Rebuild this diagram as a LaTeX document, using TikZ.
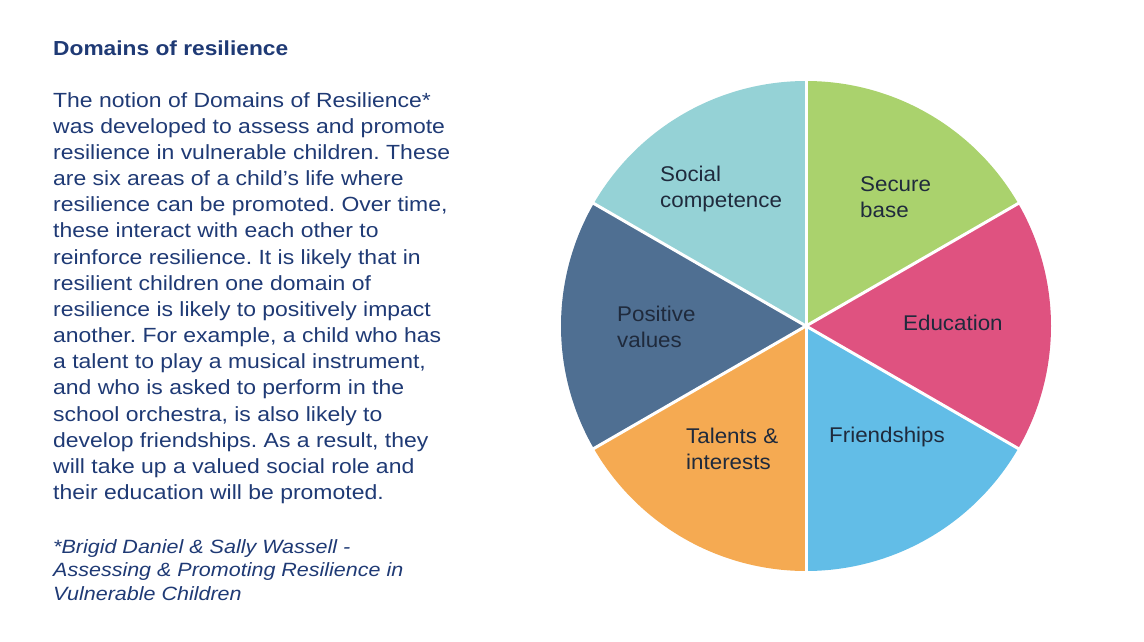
\documentclass[tikz,border=0pt]{standalone}
\usepackage{fontspec}
\setmainfont{Liberation Sans}
\newfontfamily\bodyfont[FakeStretch=1.12]{Liberation Sans}
\newfontfamily\pielabelfont[FakeStretch=1.05]{Liberation Sans}
\frenchspacing
\definecolor{navytext}{HTML}{1F3A75}
\definecolor{labeltext}{HTML}{1F2A3C}
\definecolor{cgreen}{HTML}{AAD26D}
\definecolor{cpink}{HTML}{DF5280}
\definecolor{cblue}{HTML}{62BDE7}
\definecolor{corange}{HTML}{F5AA52}
\definecolor{cslate}{HTML}{4F6F92}
\definecolor{cteal}{HTML}{95D2D6}
\tikzset{
  x=1pt, y=1pt,
  bodytext/.style={inner sep=0pt, text=navytext, align=left, font={\bodyfont\frenchspacing\fontsize{20.5}{26.17}\selectfont}},
  titletext/.style={inner sep=0pt, text=navytext, font={\bodyfont\bfseries\fontsize{20.3}{24}\selectfont}},
  notetext/.style={inner sep=0pt, text=navytext, align=left, font={\bodyfont\itshape\frenchspacing\fontsize{19.2}{23.8}\selectfont}},
  slicelabel/.style={inner sep=0pt, text=labeltext, align=left, font={\pielabelfont\fontsize{21.3}{25.5}\selectfont}},
  divider/.style={draw=white, line width=3pt},
}
\begin{document}
\begin{tikzpicture}
\useasboundingbox (0,0) rectangle (1144,-642);
\fill[white] (0,0) rectangle (1144,-642);

% text column
\node[titletext, anchor=base west] (title) at (53,-56) {Domains of resilience};
\node[bodytext, anchor=north west] (body) at (53,-92) {The notion of Domains of Resilience*\\
was developed to assess and promote\\
resilience in vulnerable children. These\\
are six areas of a child’s life where\\
resilience can be promoted. Over time,\\
these interact with each other to\\
reinforce resilience. It is likely that in\\
resilient children one domain of\\
resilience is likely to positively impact\\
another. For example, a child who has\\
a talent to play a musical instrument,\\
and who is asked to perform in the\\
school orchestra, is also likely to\\
develop friendships. As a result, they\\
will take up a valued social role and\\
their education will be promoted.};
\node[notetext, anchor=north west] (note) at (53,-539) {*Brigid Daniel \& Sally Wassell -\\
Assessing \& Promoting Resilience in\\
Vulnerable Children};

% pie
\coordinate (c) at (806,-326);
\fill[cgreen]  (c) -- ++(30:245)  arc[start angle=30,  end angle=90,  radius=245] -- cycle;
\fill[cpink]   (c) -- ++(-30:245) arc[start angle=-30, end angle=30,  radius=245] -- cycle;
\fill[cblue]   (c) -- ++(-90:245) arc[start angle=-90, end angle=-30, radius=245] -- cycle;
\fill[corange] (c) -- ++(-150:245) arc[start angle=-150, end angle=-90, radius=245] -- cycle;
\fill[cslate]  (c) -- ++(150:245) arc[start angle=150, end angle=210, radius=245] -- cycle;
\fill[cteal]   (c) -- ++(90:245)  arc[start angle=90,  end angle=150, radius=245] -- cycle;
\foreach \a in {30,90,150,210,270,330}
  \draw[divider] (c) -- ++(\a:246);

% slice labels
\node[slicelabel, anchor=west] (social)  at (660,-189) {Social\\competence};
\node[slicelabel, anchor=west] (secure)  at (860,-197) {Secure\\base};
\node[slicelabel, anchor=west] (edu)     at (903,-323) {Education};
\node[slicelabel, anchor=west] (friends) at (829,-437) {Friendships};
\node[slicelabel, anchor=west] (talents) at (686,-449) {Talents \&\\interests};
\node[slicelabel, anchor=west] (values)  at (617,-327) {Positive\\values};
\end{tikzpicture}
\end{document}
